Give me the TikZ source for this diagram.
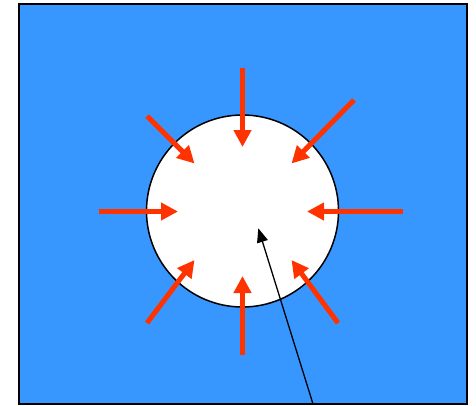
\documentclass[tikz,border=0pt]{standalone}
\usetikzlibrary{arrows.meta}
\definecolor{bgblue}{RGB}{55,151,255}
\definecolor{pushred}{RGB}{255,51,0}
\begin{document}
\begin{tikzpicture}[x=1pt,y=-1pt,
  push/.style={draw=pushred,line width=5pt,-{Triangle[length=17pt,width=17pt]},fill=pushred},
  pointer/.style={draw=black,line width=1.3pt,-{Triangle[length=14pt,width=11pt]}}]
\useasboundingbox (0,0) rectangle (476,405);
\node[draw=black,line width=1.5pt,fill=bgblue,minimum width=448pt,minimum height=400pt,inner sep=0pt,anchor=north west] (box) at (18,3) {};
\node[draw=black,line width=1.5pt,fill=white,circle,minimum size=192pt,inner sep=0pt] (hole) at (242.5,211) {};
\coordinate (tT) at (242.5,67.5);   \coordinate (hT) at (242.5,147);
\coordinate (tB) at (242.5,355);    \coordinate (hB) at (242.5,276);
\coordinate (tL) at (99,211.5);     \coordinate (hL) at (178,211.5);
\coordinate (tR) at (402.5,211.5);  \coordinate (hR) at (307,211.5);
\coordinate (tTL) at (147,116);     \coordinate (hTL) at (194.5,163.5);
\coordinate (tTR) at (354,100);     \coordinate (hTR) at (291.5,163.5);
\coordinate (tBL) at (147,323);     \coordinate (hBL) at (194.5,260);
\coordinate (tBR) at (338,323);     \coordinate (hBR) at (291.5,260);
\foreach \d in {T,B,L,R,TL,TR,BL,BR} \draw[push] (t\d) -- (h\d);
\coordinate (ptail) at (312.7,403);
\coordinate (phead) at (258.3,228.3);
\draw[pointer] (ptail) -- (phead);
\end{tikzpicture}
\end{document}
